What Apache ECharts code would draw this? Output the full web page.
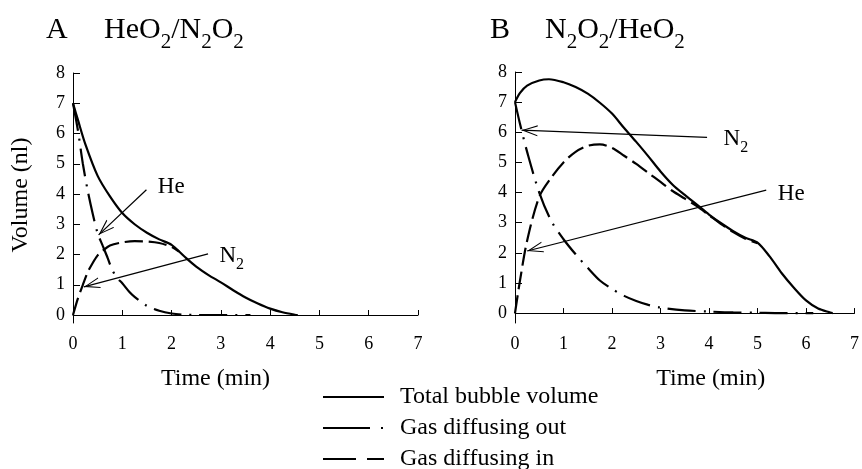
<!DOCTYPE html>
<html>
<head>
<meta charset="utf-8">
<script src="https://cdn.jsdelivr.net/npm/echarts@6/dist/echarts.min.js"></script>
<style>
  html, body { margin: 0; padding: 0; background: #fff; }
  #main { width: 862px; height: 469px; }
</style>
</head>
<body>
<div id="main"></div>
<script>
// tick labels
var xTicks = [0, 1, 2, 3, 4, 5, 6, 7];
var yTicks = [0, 1, 2, 3, 4, 5, 6, 7, 8];

// panel A  HeO2 -> N2O2
var aTotalT = [0, 0.1, 0.25, 0.5, 0.75, 1, 1.25, 1.5, 1.75, 2, 2.25, 2.5, 2.75, 3, 3.25, 3.5, 3.75, 4, 4.25, 4.5, 4.56];
var aTotalV = [7, 6.45, 5.65, 4.6, 3.92, 3.37, 3.0, 2.72, 2.5, 2.32, 1.95, 1.6, 1.32, 1.08, 0.82, 0.58, 0.38, 0.21, 0.09, 0.01, 0];
var aOutT = [0, 0.1, 0.2, 0.3, 0.4, 0.5, 0.6, 0.7, 0.8, 0.9, 1, 1.15, 1.25, 1.5, 1.75, 2, 2.25, 2.5, 3, 3.6];
var aOutV = [7, 6.1, 5.0, 4.1, 3.35, 2.7, 2.3, 1.9, 1.48, 1.22, 1.05, 0.75, 0.6, 0.3, 0.14, 0.05, 0.01, 0, 0, 0];
var aInT = [0, 0.1, 0.2, 0.3, 0.4, 0.5, 0.6, 0.75, 1, 1.25, 1.5, 1.75, 2, 2.15];
var aInV = [0, 0.55, 1.0, 1.42, 1.72, 1.97, 2.12, 2.3, 2.4, 2.44, 2.43, 2.38, 2.25, 2.1];

// panel B  N2O2 -> HeO2
var bTotalT = [0, 0.1, 0.25, 0.5, 0.7, 1, 1.25, 1.5, 1.75, 2, 2.25, 2.5, 2.75, 3, 3.25, 3.5, 3.75, 4, 4.25, 4.5, 4.75, 5, 5.25, 5.5, 5.75, 6, 6.25, 6.5, 6.55];
var bTotalV = [7, 7.3, 7.55, 7.72, 7.76, 7.66, 7.5, 7.28, 6.98, 6.62, 6.14, 5.68, 5.2, 4.7, 4.26, 3.92, 3.6, 3.27, 2.98, 2.72, 2.5, 2.34, 1.88, 1.32, 0.84, 0.42, 0.15, 0.02, 0];
var bOutT = [0, 0.1, 0.25, 0.5, 0.75, 1, 1.25, 1.5, 1.75, 2, 2.25, 2.5, 2.75, 3, 3.5, 4, 4.5, 5, 5.5, 6.15];
var bOutV = [7, 6.3, 5.35, 4.0, 3.05, 2.45, 1.95, 1.5, 1.08, 0.8, 0.57, 0.4, 0.27, 0.18, 0.09, 0.05, 0.02, 0.01, 0, 0];
var bInT = [0, 0.1, 0.25, 0.5, 0.75, 1, 1.25, 1.5, 1.75, 2, 2.25, 2.5, 2.75, 3, 3.25, 3.5, 3.75, 4, 4.25, 4.5, 4.75, 5];
var bInV = [0, 1.05, 2.4, 3.86, 4.5, 5.0, 5.35, 5.55, 5.6, 5.48, 5.22, 4.95, 4.65, 4.35, 4.05, 3.8, 3.55, 3.25, 2.95, 2.69, 2.47, 2.32];

// arrows (from, to) and their labels, in data units
var aArrows = [[[1.49, 4.14], [0.52, 2.65]], [[2.74, 2.02], [0.22, 0.93]]];
var aNotes = [['He', 1.72, 4.3], ['N2', 2.97, 2.0]];
var bArrows = [[[3.96, 5.83], [0.135, 6.07]], [[5.18, 4.08], [0.25, 2.06]]];
var bNotes = [['N2', 4.3, 5.83], ['He', 5.42, 4.03]];

var serif = 'Liberation Serif';
var names = ['Total bubble volume', 'Gas diffusing out', 'Gas diffusing in'];
var dashOut = [28, 8, 2, 8];
var dashIn = [18, 6];
// open chevron, tip sits at the centre of the path box
var chevron = 'path://M10,30 L20,60 L18,60 L10,36 L2,60 L0,60 Z M10,0 L10.1,0 L10,0.1 Z';

function pairs(xs, ys) {
  return xs.map(function (x, i) { return [x, ys[i]]; });
}

var titleRich = {
  m: { fontFamily: serif, fontSize: 30, fontWeight: 'normal', lineHeight: 30, verticalAlign: 'top', color: '#000' },
  s: { fontFamily: serif, fontSize: 21, fontWeight: 'normal', verticalAlign: 'top', padding: [17, 0, 0, 0], color: '#000' }
};
var noteRich = {
  m: { fontFamily: serif, fontSize: 23, lineHeight: 26, verticalAlign: 'top', color: '#000' },
  s: { fontFamily: serif, fontSize: 16, verticalAlign: 'top', padding: [12, 0, 0, 0], color: '#000' }
};

function noteText(t) {
  return t === 'N2' ? '{m|N}{s|2}' : '{m|' + t + '}';
}

function arrows(list) {
  return {
    silent: true,
    animation: false,
    symbol: ['none', chevron],
    symbolSize: [11, 32],
    label: { show: false },
    lineStyle: { color: '#000', width: 1.2, type: 'solid' },
    emphasis: { disabled: true },
    data: list.map(function (a) {
      return [{ coord: a[0] }, { coord: a[1] }];
    })
  };
}

function notes(list) {
  return {
    silent: true,
    animation: false,
    symbol: 'circle',
    symbolSize: 0,
    label: {
      show: true, position: 'right', distance: 0, offset: [0, 4],
      formatter: function (p) { return noteText(p.name); },
      rich: noteRich
    },
    data: list.map(function (n) {
      return { name: n[0], coord: [n[1], n[2]] };
    })
  };
}

function line(name, idx, data, dash, extra) {
  var s = {
    name: name,
    type: 'line',
    xAxisIndex: idx,
    yAxisIndex: idx,
    data: data,
    smooth: 0.3,
    symbol: 'none',
    showSymbol: false,
    lineStyle: { color: '#000', width: 2.2, type: dash },
    itemStyle: { color: '#000' },
    animation: false
  };
  if (extra) {
    s.markLine = extra.markLine;
    s.markPoint = extra.markPoint;
  }
  return s;
}

function xAxis(idx, pad) {
  return {
    type: 'value', gridIndex: idx, min: 0, max: 7, interval: 1,
    name: 'Time (min)', nameLocation: 'middle', nameGap: 44,
    nameTextStyle: { fontFamily: serif, fontSize: 24, color: '#000', padding: pad },
    axisLine: { lineStyle: { color: '#000', width: 1 } },
    axisTick: { inside: true, length: 5, lineStyle: { color: '#000' } },
    axisLabel: { fontFamily: serif, fontSize: 18, color: '#000', margin: 12 },
    splitLine: { show: false }
  };
}

function yAxis(idx, min, name) {
  return {
    type: 'value', gridIndex: idx, min: min, max: 8,
    name: name, nameLocation: 'middle', nameGap: 40,
    nameTextStyle: { fontFamily: serif, fontSize: 24, color: '#000', padding: [0, 0, 0, 6] },
    axisLine: { show: true, lineStyle: { color: '#000', width: 1 } },
    axisTick: { show: true, inside: true, length: 7, customValues: yTicks, lineStyle: { color: '#000' } },
    axisLabel: { fontFamily: serif, fontSize: 18, color: '#000', margin: 8, customValues: yTicks },
    splitLine: { show: false }
  };
}

function title(text, left) {
  return { text: text, left: left, top: 15, padding: 0, textStyle: { fontWeight: 'normal', rich: titleRich } };
}

var chart = echarts.init(document.getElementById('main'));
chart.setOption({
  backgroundColor: '#fff',
  animation: false,
  title: [
    title('{m|A}', 46),
    title('{m|HeO}{s|2}{m|/N}{s|2}{m|O}{s|2}', 104),
    title('{m|B}', 490),
    title('{m|N}{s|2}{m|O}{s|2}{m|/HeO}{s|2}', 545)
  ],
  legend: {
    orient: 'vertical', left: 322, top: 385, height: 120, width: 400, padding: 0,
    itemWidth: 61, itemHeight: 14, itemGap: 7,
    selectedMode: false,
    itemStyle: { color: 'rgba(0,0,0,0)', borderWidth: 0 },
    textStyle: { fontFamily: serif, fontSize: 24, color: '#000', lineHeight: 22, padding: [0, 0, 0, 11] },
    data: [
      { name: names[0], lineStyle: { type: 'solid' } },
      { name: names[1], lineStyle: { type: [47, 11, 2, 30] } },
      { name: names[2], lineStyle: { type: [33, 11] } }
    ]
  },
  grid: [
    { left: 73, right: 444, top: 73, bottom: 146 },
    { left: 515, right: 3, top: 72, bottom: 146 }
  ],
  xAxis: [xAxis(0, [0, 60, 0, 0]), xAxis(1, [0, 0, 0, 52])],
  yAxis: [yAxis(0, -0.264, 'Volume (nl)'), yAxis(1, -0.33, '')],
  series: [
    line(names[0], 0, pairs(aTotalT, aTotalV), 'solid', { markLine: arrows(aArrows), markPoint: notes(aNotes) }),
    line(names[1], 0, pairs(aOutT, aOutV), dashOut),
    line(names[2], 0, pairs(aInT, aInV), dashIn),
    line(names[0], 1, pairs(bTotalT, bTotalV), 'solid', { markLine: arrows(bArrows), markPoint: notes(bNotes) }),
    line(names[1], 1, pairs(bOutT, bOutV), dashOut),
    line(names[2], 1, pairs(bInT, bInV), dashIn)
  ]
});
</script>
</body>
</html>
